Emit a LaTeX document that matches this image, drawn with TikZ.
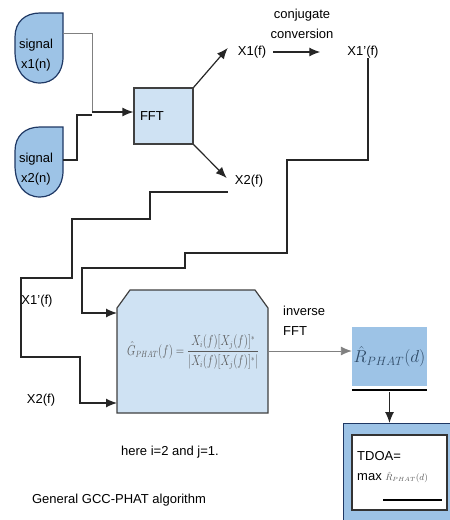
\documentclass[tikz,border=0pt]{standalone}
\usepackage{amsmath}
\usepackage{graphicx}
\usepackage{fontspec}
\setmainfont{Liberation Sans}
\usetikzlibrary{arrows.meta}
\definecolor{sigblue}{HTML}{9DC3E6}
\definecolor{boxblue}{HTML}{CFE2F3}
\definecolor{navy}{HTML}{1F3864}
\definecolor{formgray}{HTML}{5A5A5A}
\definecolor{rtext}{HTML}{2F4A66}
\tikzset{
  wire/.style={draw=black!85, line width=1.2pt},
  arr/.style={wire, -{Latex[length=11pt,width=9pt]}},
  thinwire/.style={draw=black!50, line width=0.9pt},
  lbl/.style={inner sep=0pt, align=left},
}

\begin{document}
\begin{tikzpicture}[x=1pt,y=-1pt,font=\fontsize{13}{20}\selectfont]
  \useasboundingbox (0,0) rectangle (450,520);
  % input signals
  \foreach \n/\y in {1/13,2/127}{
    \begin{scope}[shift={(15,\y)}]
      \filldraw[fill=sigblue,draw=navy,line width=1.2pt] (48,0) -- (48,44)
        .. controls (48,60) and (38,70) .. (25,70)
        .. controls (9,70) and (0,57) .. (0,38) -- (0,24)
        .. controls (0,9) and (10,0) .. (25,0) -- cycle;
    \end{scope}
    \node[lbl,align=center] (sig\n) at (36,\y+42) {signal\\x\n(n)};
  }
  \coordinate (sig1out) at (63,33);
  \coordinate (sig2out) at (63,160);
  \coordinate (fftin) at (92,112);
  \node[draw=black!75, fill=boxblue, line width=1.2pt, minimum width=59pt,
        minimum height=56pt, text width=47pt, inner xsep=6pt, align=left] (fft) at (163.5,116) {FFT};
  \draw[thinwire] (sig1out) -- (92,33) |- (fftin);
  \draw[wire] (sig2out) -- (77,160) |- (92,115);
  \draw[arr] (fftin) -- (fftin -| fft.west);
  % spectra
  \node[lbl] (x1f) at (252,52) {X1(f)};
  \node[lbl] (x2f) at (249,181) {X2(f)};
  \node[lbl] (x1pf) at (363,52) {X1'(f)};
  \node[align=center, inner sep=0pt] (conj) at (302,24) {conjugate\\conversion};
  \draw[arr] (fft.north east) -- ([shift={(-10,-4)}]x1f.west);
  \draw[arr] (fft.south east) -- ([shift={(-8,-3)}]x2f.west);
  \draw[arr] ([xshift=7pt]x1f.east) -- ([xshift=-27pt]x1pf.west);
  % GCC-PHAT block
  \filldraw[fill=boxblue, draw=black!75, line width=1.2pt]
    (117,308) -- (130,290) -- (255,290) -- (268,308) -- (268,413) -- (117,413) -- cycle;
  \node[text=formgray, font=\fontsize{13.5}{15}\selectfont, inner sep=1pt] (gcc) at (193,352)
    {\scalebox{0.76}[1]{$\hat{G}_{PHAT}(f)=\dfrac{X_i(f)[X_j(f)]^*}{|X_i(f)[X_j(f)]^*|}$}};
  \coordinate (gccina) at (117,313);
  \coordinate (gccinb) at (117,403);
  \coordinate (gccout) at (268,351);
  \draw[arr] ([xshift=5pt]x1pf.south) |- (287,160) |- (185,253) |- (82,268) |- (gccina);
  \draw[arr] ([shift={(-7,11)}]x2f.west) -- (150,192) |- (72,219) |- (21,278) |- (80,357) |- (gccinb);
  \node[lbl] (x1pin) at (37,301) {X1'(f)};
  \node[lbl] (x2in) at (41,400) {X2(f)};
  % correlation
  \node[fill=sigblue, minimum width=75pt, minimum height=59pt, text=rtext, inner sep=1pt,
        font=\fontsize{17}{20}\selectfont] (rbox) at (389.5,356.5) {$\hat{R}_{PHAT}(d)$};
  \node[anchor=north west, align=left, inner sep=0pt] (ifft) at (283,306) {inverse\\FFT};
  \draw[thinwire, -{Latex[length=11pt,width=9pt]}] (gccout) -- (gccout -| rbox.west);
  \draw[line width=1.5pt] ([yshift=-4pt]rbox.south west) -- ([yshift=-4pt]rbox.south east);
  % TDOA
  \node[fill=sigblue, draw=navy, line width=1.2pt, minimum width=112pt,
        minimum height=100pt, anchor=north west] (tdoa) at (343,423) {};
  \node[fill=white, draw=black!80, line width=1.5pt, minimum width=95pt,
        minimum height=75pt, anchor=north west] (tdoain) at (351,434) {};
  \draw[arr] ([yshift=-6pt]rbox.south) -- (rbox.south |- tdoa.north);
  \node[anchor=west, align=left, inner sep=0pt] (tdoatxt) at (357,467)
    {TDOA=\\max \textcolor{formgray}{\fontsize{9}{10}\selectfont$\hat{R}_{PHAT}(d)$}};
  \draw[line width=1.3pt] (383,500) -- (442,500);
  % notes
  \node (note) at (170,452) {here i=2 and j=1.};
  \node (caption) at (119,500) {General GCC-PHAT algorithm};
\end{tikzpicture}
\end{document}
